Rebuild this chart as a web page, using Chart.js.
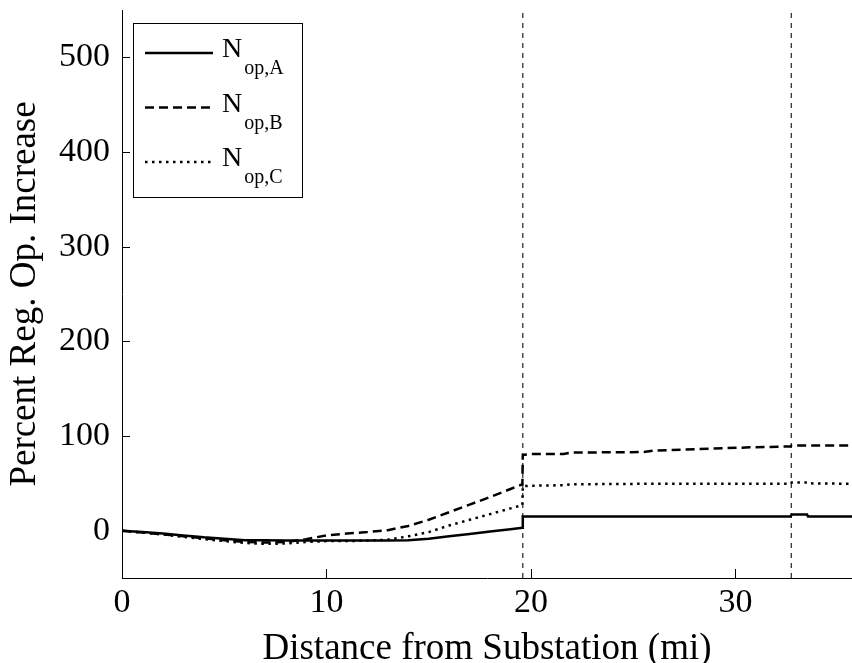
<!DOCTYPE html>
<html>
<head>
<meta charset="utf-8">
<script src="https://cdn.jsdelivr.net/npm/chart.js@4.4.1/dist/chart.umd.min.js"></script>
<style>
    html, body { margin: 0; padding: 0; background: #fff; }
    #wrap { width: 852px; height: 663px; }
</style>
</head>
<body>
<div id="wrap"><canvas id="chart"></canvas></div>
<script>
// Distance from substation (mi), shared by all three curves
const distance = [0, 1, 2, 3, 4, 5, 6, 7, 8, 9, 10, 11, 12, 13, 14, 15, 16, 17, 18, 19, 19.58,
    19.6, 20, 21.6, 22, 25.5, 26, 28, 30.7, 32.7, 32.75, 33.5, 33.55, 35.7];

// Percent regulator operation increase
const nopA = [0, -1.5, -3, -5, -7, -8.5, -10, -10, -10.5, -10.5, -10.5, -10.5, -10.5, -10.5, -10, -8.5, -6, -3.5, -1, 1.5, 3,
    15, 15, 15, 15, 15, 15, 15, 15, 15, 17, 17, 15, 15];
const nopB = [0, -2, -4, -6, -8, -10, -12, -12.5, -12, -9, -5, -3, -1.5, 0.5, 5, 11.5, 19.5, 27.5, 35.5, 44, 49,
    80, 81, 81, 82.5, 83, 84.5, 86, 88, 89, 90, 90, 90, 90];
const nopC = [0, -2, -4, -6.5, -9, -11, -13, -14, -13.5, -12, -11, -11, -10.5, -9.5, -6, -1.5, 5.5, 11.5, 17.5, 23.5, 27,
    47, 47.5, 48, 49, 49.5, 49.5, 49.5, 49.5, 49.5, 51, 51, 50, 49.5];

// Legend labels: main text + subscript
const seriesNames = [['N', 'op,A'], ['N', 'op,B'], ['N', 'op,C']];

// Vertical marker lines (mi)
const markerLines = [19.6, 32.73];

// Axes
const xTicks = [0, 10, 20, 30];
const yTicks = [0, 100, 200, 300, 400, 500];
const xRange = [0, 35.7];
const yRange = [-50, 550];
const xTitle = 'Distance from Substation (mi)';
const yTitle = 'Percent Reg. Op. Increase';

const FONT = '"Liberation Serif", "Times New Roman", serif';

const styles = [
    { borderDash: [] },
    { borderDash: [9, 5] },
    { borderDash: [2.5, 4.5] }
];

function toPoints(values) {
    return distance.map((d, i) => ({ x: d, y: values[i] }));
}

const datasets = [nopA, nopB, nopC].map((vals, i) => ({
    label: seriesNames[i].join(''),
    data: toPoints(vals),
    borderColor: '#000',
    borderWidth: 2.5,
    borderDash: styles[i].borderDash,
    borderCapStyle: 'butt',
    pointRadius: 0,
    tension: 0,
    order: 1
}));

markerLines.forEach(m => {
    datasets.push({
        label: 'marker',
        data: [{ x: m, y: yRange[0] }, { x: m, y: yRange[1] }],
        borderColor: '#222',
        borderWidth: 1.2,
        borderDash: [5, 5],
        pointRadius: 0,
        order: 2
    });
});

// Tick marks pointing into the plot
const innerTicks = {
    id: 'innerTicks',
    afterDraw(chart) {
        const { ctx, chartArea, scales: { x, y } } = chart;
        ctx.save();
        ctx.strokeStyle = '#000';
        ctx.lineWidth = 1;
        ctx.beginPath();
        xTicks.forEach(v => {
            const px = Math.round(x.getPixelForValue(v)) + 0.5;
            ctx.moveTo(px, chartArea.bottom);
            ctx.lineTo(px, chartArea.bottom - 9);
        });
        yTicks.forEach(v => {
            const py = Math.round(y.getPixelForValue(v)) + 0.5;
            ctx.moveTo(chartArea.left, py);
            ctx.lineTo(chartArea.left + 8, py);
        });
        ctx.stroke();
        ctx.restore();
    }
};

// Boxed legend with subscripted labels
const legendBox = {
    id: 'legendBox',
    afterDatasetsDraw(chart) {
        const { ctx, chartArea } = chart;
        const left = chartArea.left + 11;
        const top = chartArea.top + 13;
        const w = 169, h = 174;
        const rows = [30, 84.5, 139];
        ctx.save();
        ctx.fillStyle = '#fff';
        ctx.fillRect(left, top, w, h);
        ctx.strokeStyle = '#000';
        ctx.lineWidth = 1;
        ctx.strokeRect(left + 0.5, top + 0.5, w, h);
        rows.forEach((ry, i) => {
            const ly = top + ry;
            ctx.beginPath();
            ctx.setLineDash(styles[i].borderDash);
            ctx.lineWidth = 2.5;
            ctx.moveTo(left + 12, ly);
            ctx.lineTo(left + 80, ly);
            ctx.stroke();
            ctx.setLineDash([]);
            ctx.fillStyle = '#000';
            ctx.textBaseline = 'alphabetic';
            ctx.textAlign = 'left';
            ctx.font = '28px ' + FONT;
            ctx.fillText(seriesNames[i][0], left + 89, ly + 4);
            const nw = ctx.measureText(seriesNames[i][0]).width;
            ctx.font = '20px ' + FONT;
            ctx.fillText(seriesNames[i][1], left + 89 + nw + 2, ly + 21);
        });
        ctx.restore();
    }
};

new Chart(document.getElementById('chart'), {
    type: 'line',
    data: { datasets },
    options: {
        responsive: true,
        maintainAspectRatio: false,
        animation: false,
        events: [],
        layout: { padding: { top: 10, right: 0, left: 0, bottom: 0 } },
        plugins: {
            legend: { display: false },
            tooltip: { enabled: false }
        },
        scales: {
            x: {
                type: 'linear',
                min: xRange[0],
                max: xRange[1],
                afterBuildTicks: s => { s.ticks = xTicks.map(v => ({ value: v })); },
                afterFit: s => { s.height = 85; s.paddingLeft = 0; s.paddingRight = 0; },
                grid: { drawOnChartArea: false, drawTicks: false },
                border: { color: '#000', width: 1 },
                ticks: { color: '#000', padding: 5, font: { family: FONT, size: 34, lineHeight: 1.2 } },
                title: {
                    display: true,
                    text: xTitle,
                    color: '#000',
                    font: { family: FONT, size: 37, lineHeight: 1 },
                    padding: { top: 0, bottom: -5 }
                }
            },
            y: {
                type: 'linear',
                min: yRange[0],
                max: yRange[1],
                afterBuildTicks: s => { s.ticks = yTicks.map(v => ({ value: v })); },
                afterFit: s => { s.width = 122; s.paddingTop = 0; s.paddingBottom = 0; },
                grid: { drawOnChartArea: false, drawTicks: false },
                border: { color: '#000', width: 1 },
                ticks: { color: '#000', padding: 12, font: { family: FONT, size: 34 } },
                title: {
                    display: true,
                    text: yTitle,
                    color: '#000',
                    font: { family: FONT, size: 37, lineHeight: 1 },
                    padding: { top: 7, bottom: 0 }
                }
            }
        }
    },
    plugins: [innerTicks, legendBox]
});
</script>
</body>
</html>
